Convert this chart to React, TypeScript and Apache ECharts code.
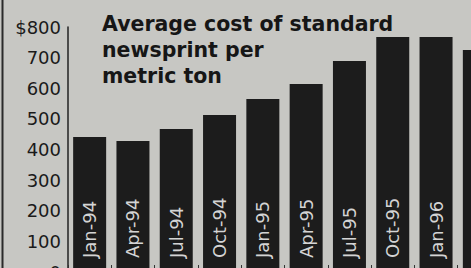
import React, { useEffect, useRef } from "react";
import * as echarts from "echarts";

const categories = ["Jan-94", "Apr-94", "Jul-94", "Oct-94", "Jan-95", "Apr-95", "Jul-95", "Oct-95", "Jan-96", "Apr-96"];
const costPerTon = [441, 428, 467, 513, 565, 614, 689, 767, 767, 725];
const titleLines = ["Average cost of standard", "newsprint per", "metric ton"];

export default function App() {
  const ref = useRef<HTMLDivElement>(null);
  useEffect(() => {
    if (!ref.current) return;
    const chart = echarts.init(ref.current, null, { renderer: "svg" });
    const font = "'DejaVu Sans', sans-serif";
    chart.setOption({
      animation: false,
      backgroundColor: "#c7c7c3",
      grid: { left: 68, top: 27, width: 433, bottom: 18 },
      xAxis: {
        type: "category",
        data: categories,
        boundaryGap: true,
        axisLine: { show: true, lineStyle: { color: "#222", width: 1.5 } },
        axisTick: { show: true, inside: true, length: 7, interval: 0, lineStyle: { color: "#333", width: 1 } },
        axisLabel: { show: false },
        splitLine: { show: false },
      },
      yAxis: {
        type: "value",
        min: 0,
        max: 800,
        interval: 100,
        axisLine: { show: true, lineStyle: { color: "#222", width: 1.5 } },
        axisTick: { show: false },
        splitLine: { show: false },
        axisLabel: {
          margin: 7,
          color: "#1a1a1a",
          fontFamily: font,
          fontSize: 18,
          formatter: (v: number) => (v === 800 ? "$800" : String(v)),
        },
      },
      title: {
        text: titleLines.join("\n"),
        left: 102,
        top: 11,
        padding: 0,
        textStyle: {
          fontFamily: font,
          fontWeight: "bold",
          fontSize: 20.5,
          lineHeight: 26,
          color: "#161616",
        },
      },
      graphic: [
        {
          type: "line",
          shape: { x1: 2.5, y1: 0, x2: 2.5, y2: 290 },
          style: { stroke: "#2a2a2a", lineWidth: 2 },
        },
      ],
      series: [
        {
          type: "bar",
          data: costPerTon,
          barWidth: 33,
          itemStyle: { color: "#1c1c1c" },
          label: {
            show: true,
            position: "insideBottom",
            distance: 14,
            rotate: 90,
            align: "left",
            verticalAlign: "middle",
            formatter: (p: any) => p.name,
            color: "#d4d4d4",
            fontFamily: font,
            fontSize: 18,
          },
        },
      ],
    });
    return () => chart.dispose();
  }, []);
  return (
    <div style={{ position: "fixed", left: 0, top: 0, width: 471, height: 268, overflow: "hidden", background: "#c7c7c3" }}>
      <div ref={ref} style={{ width: 520, height: 290 }} />
    </div>
  );
}
